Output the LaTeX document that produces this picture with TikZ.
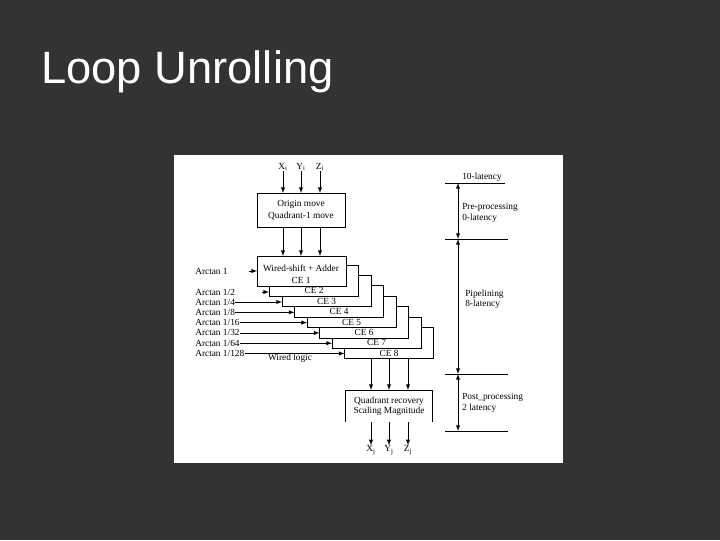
\documentclass[tikz,border=0pt]{standalone}
\usepackage{fontspec}
\setmainfont{Liberation Serif}
\newfontfamily\titlefont{Liberation Sans}
\begin{document}
\begin{tikzpicture}[x=0.75pt,y=-0.75pt,
  ln/.style={black,line width=0.5pt},
  ar/.style={ln,-latex},
  lab/.style={font=\fontsize{7}{8}\selectfont,inner sep=0pt},
  llab/.style={lab,anchor=west}]
\fill[fill={rgb,255:red,51;green,51;blue,51}] (0,0) rectangle (720,540);
\useasboundingbox (0,0) rectangle (720,540);
\node[anchor=west,text=white,font=\titlefont\fontsize{34}{38}\selectfont,inner sep=0pt] (title) at (41,72) {Loop Unrolling};
\fill[white] (174,155) rectangle (563,463);
% inputs
\foreach \x/\n/\t in {283/xi/X_i,301/yi/Y_i,320/zi/Z_i}{
  \node[lab] (\n) at (\x,167) {$\mathrm{\t}$};
  \coordinate (\n b) at (\x,193);
  \draw[ar] (\n) -- (\n b);
}
\draw[ln] (257,193) rectangle (345,227);
\node[lab] (om) at (301,204) {Origin move};
\node[lab] (qm) at (301,216) {Quadrant-1 move};
\foreach \x in {283,301,320}{
  \coordinate (a\x) at (\x,227); \coordinate (b\x) at (\x,256);
  \draw[ar] (a\x) -- (b\x);}
% CE1
\draw[ln] (257,256) rectangle (346,286);
\node[lab] (ws) at (301,268) {Wired-shift + Adder};
\node[lab] (ce1) at (301,280) {CE 1};
% CE2..8
\foreach \k in {2,...,8}{
  \pgfmathsetmacro{\xl}{257+12.5*(\k-1)}
  \pgfmathsetmacro{\xr}{346+12.5*(\k-1)}
  \pgfmathsetmacro{\xp}{346+12.5*(\k-2)}
  \pgfmathsetmacro{\yb}{286+10.4*(\k-1)}
  \pgfmathsetmacro{\ybp}{286+10.4*(\k-2)}
  \pgfmathsetmacro{\yt}{\ybp-21}
  \draw[ln] (\xl,\ybp) -- (\xl,\yb) -- (\xr,\yb) -- (\xr,\yt) -- (\xp,\yt);
  \node[lab] (ce\k) at ({(\xl+\xr)/2},\yb-5.5) {CE \k};
}
% arctan inputs
\node[llab] (at1) at (195,271) {Arctan 1};
\coordinate (e1) at (257,271); \draw[ar] (249,271) -- (e1);
\node[llab] (at2) at (195,292) {Arctan 1/2};
\coordinate (e2) at (269,292); \draw[ar] (262,292) -- (e2);
\foreach \k/\d [count=\i from 3] in {3/4,4/8,5/16,6/32,7/64,8/128}{
  \pgfmathsetmacro{\xl}{257+12.5*(\k-1)}
  \pgfmathsetmacro{\yy}{302+10.3*(\k-3)}
  \node[llab] (at\k) at (195,\yy) {Arctan 1/\d};
  \coordinate (e\k) at (\xl,\yy);
  \draw[ar] (at\k.east) -- (e\k);
}
\node[lab] (wl) at (290,358) {Wired logic};
% outputs to post box
\foreach \x in {371,389,408}{
  \coordinate (c\x) at (\x,359); \coordinate (d\x) at (\x,390);
  \draw[ar] (c\x) -- (d\x);}
\draw[ln] (345,422) -- (345,390) -- (432,390) -- (432,422);
\node[lab] (qr) at (389,401) {Quadrant recovery};
\node[lab] (sm) at (389,411) {Scaling Magnitude};
\foreach \x/\n/\t in {371/xj/X_j,389/yj/Y_j,408/zj/Z_j}{
  \coordinate (\n a) at (\x,422);
  \node[lab] (\n) at (\x,450) {$\mathrm{\t}$};
  \draw[ar] (\n a) -- (\n.north);
}
% latency scale
\foreach \y/\r in {183/505,239/508,374/508,431/508}{
  \draw[ln] (445,\y) -- (\r,\y);}
\node[lab] (l10) at (482,177) {10-latency};
\coordinate (p1) at (458,183); \coordinate (p2) at (458,239);
\coordinate (p3) at (458,374); \coordinate (p4) at (458,431);
\draw[ln,latex-latex] (p1) -- (p2);
\draw[ln,latex-latex] (p2) -- (p3);
\draw[ln,latex-latex] (p3) -- (p4);
\node[llab] (pre) at (462,207) {Pre-processing};
\node[llab] (l0) at (462,218) {0-latency};
\node[llab] (pip) at (465,294) {Pipelining};
\node[llab] (l8) at (465,304) {8-latency};
\node[llab] (post) at (462,397) {Post\_processing};
\node[llab] (l2) at (462,408) {2 latency};
\end{tikzpicture}
\end{document}
